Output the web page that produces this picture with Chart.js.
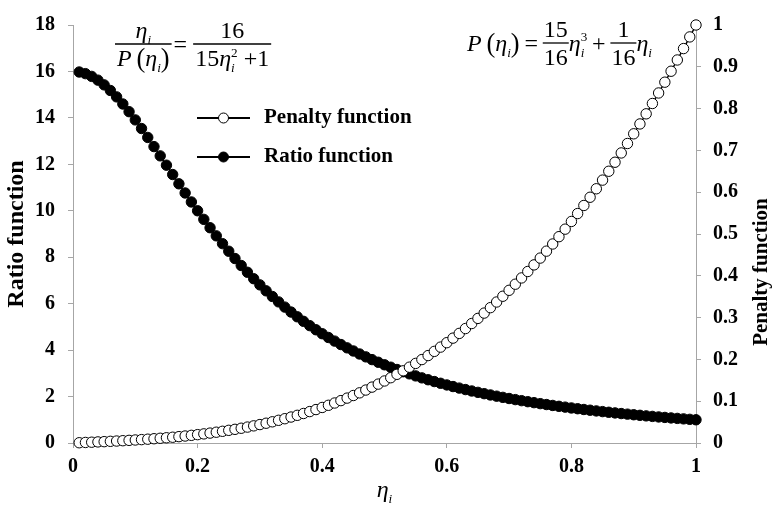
<!DOCTYPE html>
<html>
<head>
<meta charset="utf-8">
<title>Penalty and ratio functions</title>
<script src="https://cdn.jsdelivr.net/npm/chart.js"></script>
<style>
  html, body { margin: 0; padding: 0; background: #fff; }
  #wrap { width: 774px; height: 507px; position: relative; }
</style>
</head>
<body>
<div id="wrap"><canvas id="chart"></canvas></div>
<script>
// eta_i sample points
const eta = [
  0.01, 0.02, 0.03, 0.04, 0.05, 0.06, 0.07, 0.08, 0.09, 0.10,
  0.11, 0.12, 0.13, 0.14, 0.15, 0.16, 0.17, 0.18, 0.19, 0.20,
  0.21, 0.22, 0.23, 0.24, 0.25, 0.26, 0.27, 0.28, 0.29, 0.30,
  0.31, 0.32, 0.33, 0.34, 0.35, 0.36, 0.37, 0.38, 0.39, 0.40,
  0.41, 0.42, 0.43, 0.44, 0.45, 0.46, 0.47, 0.48, 0.49, 0.50,
  0.51, 0.52, 0.53, 0.54, 0.55, 0.56, 0.57, 0.58, 0.59, 0.60,
  0.61, 0.62, 0.63, 0.64, 0.65, 0.66, 0.67, 0.68, 0.69, 0.70,
  0.71, 0.72, 0.73, 0.74, 0.75, 0.76, 0.77, 0.78, 0.79, 0.80,
  0.81, 0.82, 0.83, 0.84, 0.85, 0.86, 0.87, 0.88, 0.89, 0.90,
  0.91, 0.92, 0.93, 0.94, 0.95, 0.96, 0.97, 0.98, 0.99, 1.00
];

// P(eta_i), right axis
const penalty = [
  0.0006, 0.0013, 0.0019, 0.0026, 0.0032, 0.0040, 0.0047, 0.0055, 0.0063, 0.0072,
  0.0081, 0.0091, 0.0102, 0.0113, 0.0125, 0.0138, 0.0152, 0.0167, 0.0183, 0.0200,
  0.0218, 0.0237, 0.0258, 0.0280, 0.0303, 0.0327, 0.0353, 0.0381, 0.0410, 0.0441,
  0.0473, 0.0507, 0.0543, 0.0581, 0.0621, 0.0662, 0.0706, 0.0752, 0.0800, 0.0850,
  0.0902, 0.0957, 0.1014, 0.1074, 0.1136, 0.1200, 0.1267, 0.1337, 0.1409, 0.1484,
  0.1562, 0.1643, 0.1727, 0.1814, 0.1904, 0.1996, 0.2092, 0.2192, 0.2294, 0.2400,
  0.2509, 0.2622, 0.2738, 0.2858, 0.2981, 0.3108, 0.3238, 0.3373, 0.3511, 0.3653,
  0.3799, 0.3949, 0.4103, 0.4261, 0.4424, 0.4590, 0.4761, 0.4936, 0.5116, 0.5300,
  0.5489, 0.5682, 0.5879, 0.6082, 0.6289, 0.6501, 0.6717, 0.6939, 0.7165, 0.7397,
  0.7633, 0.7875, 0.8122, 0.8374, 0.8632, 0.8894, 0.9163, 0.9436, 0.9715, 1.0000
];

// eta_i / P(eta_i), left axis
const ratio = [
  15.976, 15.905, 15.787, 15.625, 15.422, 15.180, 14.904, 14.599, 14.267, 13.913,
  13.542, 13.158, 12.764, 12.365, 11.963, 11.561, 11.161, 10.767, 10.380, 10.000,
  9.630, 9.270, 8.921, 8.584, 8.258, 7.944, 7.643, 7.353, 7.075, 6.809,
  6.553, 6.309, 6.076, 5.852, 5.639, 5.435, 5.240, 5.054, 4.876, 4.706,
  4.544, 4.388, 4.240, 4.098, 3.963, 3.833, 3.709, 3.591, 3.477, 3.368,
  3.264, 3.165, 3.069, 2.977, 2.889, 2.805, 2.724, 2.646, 2.572, 2.500,
  2.431, 2.365, 2.301, 2.240, 2.181, 2.124, 2.069, 2.016, 1.965, 1.916,
  1.869, 1.823, 1.779, 1.737, 1.695, 1.656, 1.617, 1.580, 1.544, 1.509,
  1.476, 1.443, 1.412, 1.381, 1.352, 1.323, 1.295, 1.268, 1.242, 1.217,
  1.192, 1.168, 1.145, 1.122, 1.101, 1.079, 1.059, 1.039, 1.019, 1.000
];

const seriesNames = ['Penalty function', 'Ratio function'];

const xTicks = [0, 0.2, 0.4, 0.6, 0.8, 1];
const xTickLabels = ['0', '0.2', '0.4', '0.6', '0.8', '1'];
const ratioTicks = [0, 2, 4, 6, 8, 10, 12, 14, 16, 18];
const penaltyTicks = [0, 0.1, 0.2, 0.3, 0.4, 0.5, 0.6, 0.7, 0.8, 0.9, 1];
const penaltyTickLabels = ['0', '0.1', '0.2', '0.3', '0.4', '0.5', '0.6', '0.7', '0.8', '0.9', '1'];

const serif = '"Liberation Serif", "Times New Roman", serif';
const axisGrey = '#a6a6a6';
const tickFont = { family: serif, size: 20, weight: 'bold' };

function points(ys) {
  return eta.map((x, i) => ({ x: x, y: ys[i] }));
}

function fixedTicks(values) {
  return scale => { scale.ticks = values.map(v => ({ value: v })); };
}

function axisLines() {
  return {
    grid: { drawOnChartArea: false, drawTicks: true, tickLength: 5, color: axisGrey },
    border: { display: true, color: axisGrey, width: 1 }
  };
}

// ---- little helpers for the formulas ----
const mathSize = 24;
const thin = '\u2009';

function setFont(ctx, size, style) {
  ctx.font = (style || '') + ' ' + size + 'px ' + serif;
}

// pieces: {t, st, s, dy, adv}; returns total advance
function run(ctx, pieces, x, y, draw) {
  let w = 0;
  pieces.forEach(p => {
    setFont(ctx, mathSize * (p.s || 1), p.st);
    if (draw !== false) ctx.fillText(p.t, x + w, y + (p.dy || 0));
    w += p.adv !== undefined ? p.adv : ctx.measureText(p.t).width;
  });
  return w;
}

function fraction(ctx, num, den, x, barY, pad) {
  const wn = run(ctx, num, 0, 0, false);
  const wd = run(ctx, den, 0, 0, false);
  const w = Math.max(wn, wd) + (pad === undefined ? 4 : pad);
  run(ctx, num, x + (w - wn) / 2, barY - 6);
  run(ctx, den, x + (w - wd) / 2, barY + 22);
  ctx.lineWidth = 1.3;
  ctx.beginPath();
  ctx.moveTo(x, barY);
  ctx.lineTo(x + w, barY);
  ctx.stroke();
  return w;
}

const etaI = [{ t: 'η', st: 'italic' }, { t: 'i', st: 'italic', s: 0.55, dy: 6 }];
const pOfEta = [
  { t: 'P', st: 'italic' }, { t: thin },
  { t: '(', s: 1.1, dy: 1 }
].concat(etaI, [{ t: ')', s: 1.1, dy: 1 }]);

function drawRatioFormula(ctx, x, barY) {
  let w = fraction(ctx, etaI, pOfEta, x, barY);
  w += run(ctx, [{ t: ' = ' }], x + w - 4, barY + 8) - 4;
  const den = [
    { t: '15' }, { t: 'η', st: 'italic' },
    { t: 'i', st: 'italic', s: 0.55, dy: 6, adv: 0 },
    { t: '2', s: 0.55, dy: -9 }, { t: ' +1' }
  ];
  fraction(ctx, [{ t: '16' }], den, x + w, barY);
}

function drawPenaltyFormula(ctx, x, barY) {
  const base = barY + 8;
  let w = run(ctx, pOfEta, x, base);
  w += run(ctx, [{ t: thin + '=' + thin }], x + w, base);
  w += fraction(ctx, [{ t: '15' }], [{ t: '16' }], x + w, barY, 2);
  w += run(ctx, [
    { t: 'η', st: 'italic' },
    { t: 'i', st: 'italic', s: 0.55, dy: 6, adv: 0 },
    { t: '3', s: 0.55, dy: -10 }, { t: thin + '+' + thin }
  ], x + w, base);
  w += fraction(ctx, [{ t: '1' }], [{ t: '16' }], x + w, barY, 2);
  run(ctx, etaI, x + w, base);
}

const annotations = {
  id: 'annotations',
  afterDraw(chart) {
    const ctx = chart.ctx;
    const area = chart.chartArea;
    ctx.save();
    ctx.fillStyle = '#000';
    ctx.strokeStyle = '#000';
    ctx.textBaseline = 'alphabetic';
    ctx.textAlign = 'left';

    // legend, inside the plot
    chart.data.datasets.forEach((ds, i) => {
      const y = 118 + i * 39;
      ctx.lineWidth = 2;
      ctx.beginPath();
      ctx.moveTo(197, y);
      ctx.lineTo(250, y);
      ctx.stroke();
      ctx.beginPath();
      ctx.arc(223.5, y, 5, 0, Math.PI * 2);
      ctx.fillStyle = ds.pointBackgroundColor;
      ctx.fill();
      ctx.lineWidth = 1;
      ctx.stroke();
      ctx.fillStyle = '#000';
      ctx.font = 'bold 21px ' + serif;
      ctx.textBaseline = 'middle';
      ctx.fillText(ds.label, 264, y);
      ctx.textBaseline = 'alphabetic';
    });

    drawRatioFormula(ctx, 115, 44);
    drawPenaltyFormula(ctx, 467, 43);

    // x axis title: eta_i
    const xw = run(ctx, etaI, 0, 0, false);
    run(ctx, etaI, (area.left + area.right) / 2 - xw / 2, 497);

    // right axis title, reading upwards
    ctx.translate(762, 272);
    ctx.rotate(-Math.PI / 2);
    ctx.font = 'bold 21px ' + serif;
    ctx.textAlign = 'center';
    ctx.textBaseline = 'middle';
    ctx.fillText(seriesNames[0], 0, 0);
    ctx.restore();
  }
};

new Chart(document.getElementById('chart'), {
  type: 'scatter',
  data: {
    datasets: [
      {
        label: seriesNames[0],
        data: points(penalty),
        yAxisID: 'y1',
        showLine: true,
        borderColor: '#000',
        borderWidth: 1.5,
        pointRadius: 5.2,
        pointBorderWidth: 1,
        pointBackgroundColor: '#fff',
        pointBorderColor: '#000',
        clip: false
      },
      {
        label: seriesNames[1],
        data: points(ratio),
        yAxisID: 'y',
        showLine: true,
        borderColor: '#000',
        borderWidth: 1.5,
        pointRadius: 5.2,
        pointBorderWidth: 1,
        pointBackgroundColor: '#000',
        pointBorderColor: '#000',
        clip: false
      }
    ]
  },
  options: {
    responsive: true,
    maintainAspectRatio: false,
    animation: false,
    layout: { padding: { top: 16, left: 0, right: 0, bottom: 0 } },
    plugins: { legend: { display: false }, tooltip: { enabled: false } },
    scales: {
      x: Object.assign(axisLines(), {
        type: 'linear', min: 0, max: 1,
        afterBuildTicks: fixedTicks(xTicks),
        afterFit: s => { s.height = 64; },
        ticks: {
          font: tickFont, color: '#000', padding: 7,
          maxRotation: 0, autoSkip: false,
          callback: (v, i) => xTickLabels[i]
        }
      }),
      y: Object.assign(axisLines(), {
        position: 'left', min: 0, max: 18,
        afterBuildTicks: fixedTicks(ratioTicks),
        afterFit: s => { s.width = 73; },
        title: {
          display: true, text: seriesNames[1], color: '#000',
          font: { family: serif, size: 24, weight: 'bold' },
          padding: { top: 2, bottom: 0 }
        },
        ticks: { font: tickFont, color: '#000', padding: 13, autoSkip: false }
      }),
      y1: Object.assign(axisLines(), {
        position: 'right', min: 0, max: 1,
        afterBuildTicks: fixedTicks(penaltyTicks),
        afterFit: s => { s.width = 78; },
        ticks: {
          font: tickFont, color: '#000', padding: 12, autoSkip: false,
          callback: (v, i) => penaltyTickLabels[i]
        }
      })
    }
  },
  plugins: [annotations]
});
</script>
</body>
</html>
